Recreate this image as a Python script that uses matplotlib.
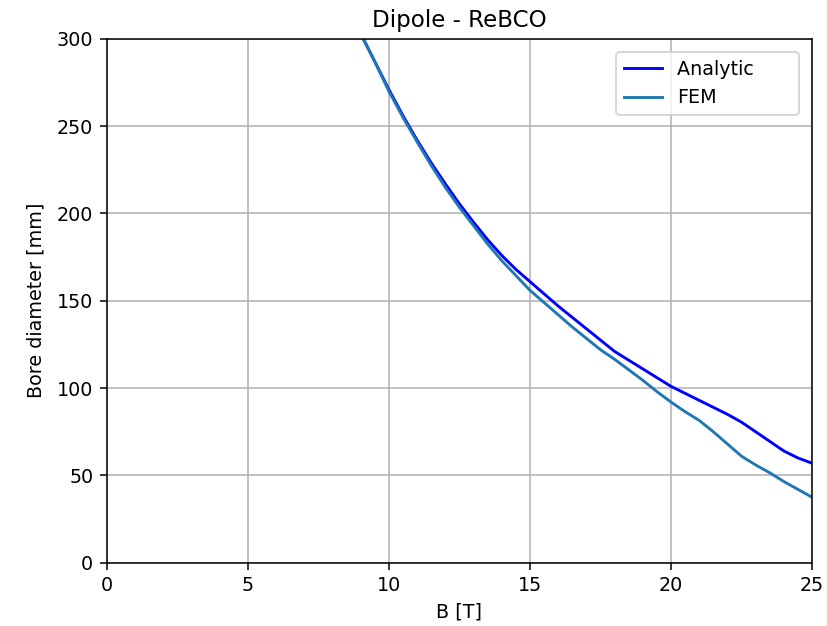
import matplotlib
matplotlib.use("Agg")
import matplotlib.pyplot as plt

B = [9, 9.5, 10, 10.5, 11, 11.5, 12, 12.5, 13, 13.5, 14, 14.5, 15, 15.5, 16, 16.5,
     17, 17.5, 18, 18.5, 19, 19.5, 20, 20.5, 21, 21.5, 22, 22.5, 23, 23.5, 24, 24.5, 25]
D_analytic = [303, 287, 271, 256, 242, 229, 217, 205.5, 195, 185, 176, 168, 161, 154, 147, 140.5,
              134, 127.5, 121, 116, 111, 106, 101, 97, 93, 89, 85, 80.5, 75, 69.5, 64, 60, 57]
D_fem = [303, 287, 270, 255, 241, 227.5, 215, 203.5, 193, 182.5, 173, 164.5, 156, 149, 142, 135,
         128.5, 122, 116.5, 110.5, 104.5, 98, 92, 86.5, 81.5, 75, 68, 61, 56, 51.5, 46.5, 42, 37.5]
labels = ['Analytic', 'FEM']

DPI = 138
fig = plt.figure(figsize=(827 / DPI, 626 / DPI), dpi=DPI)
ax = fig.add_axes([0.129, 0.101, 0.853, 0.837])
ax.plot(B, D_analytic, color='#0000ff', label=labels[0] + '      ')
ax.plot(B, D_fem, color='#1f77b4', label=labels[1])
ax.set_xlim(0, 25)
ax.set_ylim(0, 300)
ax.grid(True)
ax.set_xlabel('B [T]')
ax.set_ylabel('Bore diameter [mm]', labelpad=6)
ax.set_title('Dipole - ReBCO')
ax.legend(loc='upper right', borderaxespad=0.7)
fig.savefig('out.png', dpi=DPI)
